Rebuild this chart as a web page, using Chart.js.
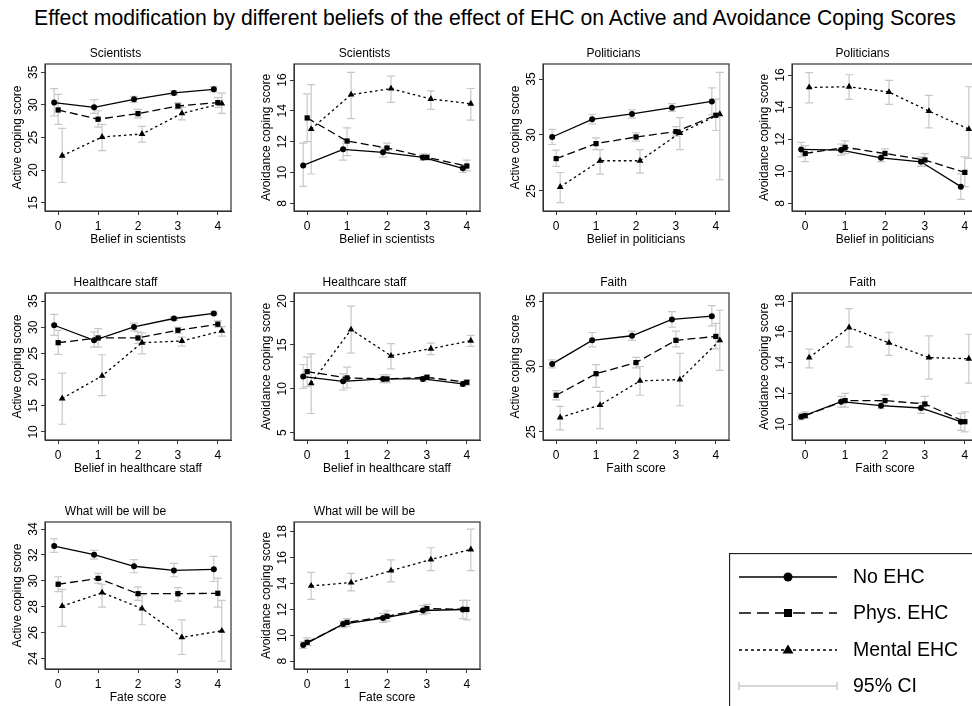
<!DOCTYPE html>
<html>
<head>
<meta charset="utf-8">
<script src="https://cdn.jsdelivr.net/npm/chart.js@4.4.1/dist/chart.umd.min.js"></script>
<style>
html, body { margin: 0; padding: 0; background: #fff; width: 972px; height: 706px; overflow: hidden; }
#title { position: absolute; left: 9px; top: 6px; width: 972px; text-align: center; font: 21.2px "Liberation Sans", Arial, sans-serif; line-height: 24px; color: #000; white-space: nowrap; }
canvas { position: absolute; }
</style>
</head>
<body>
<div id="title">Effect modification by different beliefs of the effect of EHC on Active and Avoidance Coping Scores</div>
<canvas id="p1" width="236" height="204"></canvas>
<canvas id="p2" width="236" height="204"></canvas>
<canvas id="p3" width="236" height="204"></canvas>
<canvas id="p4" width="236" height="204"></canvas>
<canvas id="p5" width="236" height="204"></canvas>
<canvas id="p6" width="236" height="204"></canvas>
<canvas id="p7" width="236" height="204"></canvas>
<canvas id="p8" width="236" height="204"></canvas>
<canvas id="p9" width="236" height="204"></canvas>
<canvas id="p10" width="236" height="204"></canvas>
<canvas id="legend" width="243" height="153"></canvas>
<script>
const FONT = '"Liberation Sans", Arial, sans-serif'

const xTicks = [0, 1, 2, 3, 4]
const seriesNames = ['No EHC', 'Phys. EHC', 'Mental EHC']
const seriesShift = [-0.1, 0, 0.1]

// Scientists - active
const sciActNo = [30.35, 29.63, 30.86, 31.83, 32.39]
const sciActPhys = [29.22, 27.8, 28.66, 29.83, 30.35]
const sciActMent = [22.2, 25.08, 25.54, 28.7, 30.2]
const sciActNoCI = [[28.3, 32.5], [28.7, 30.8], [30.4, 31.3], [31.5, 32.2], [32.0, 32.8]]
const sciActPhysCI = [[27.0, 31.6], [26.6, 29.1], [28.0, 29.3], [29.4, 30.3], [29.6, 31.1]]
const sciActMentCI = [[18.1, 26.4], [23.0, 27.0], [24.3, 26.7], [27.7, 29.6], [28.7, 31.8]]

// Scientists - avoidance
const sciAvoNo = [10.46, 11.5, 11.31, 10.98, 10.27]
const sciAvoPhys = [13.54, 12.04, 11.59, 10.98, 10.42]
const sciAvoMent = [12.82, 15.05, 15.44, 14.77, 14.46]
const sciAvoNoCI = [[9.1, 11.9], [10.8, 12.2], [11.0, 11.6], [10.8, 11.2], [10.0, 10.5]]
const sciAvoPhysCI = [[12.0, 15.1], [11.1, 12.9], [11.3, 11.9], [10.8, 11.2], [10.1, 10.8]]
const sciAvoMentCI = [[9.9, 15.7], [13.5, 16.5], [14.55, 16.25], [14.1, 15.3], [13.4, 15.45]]

// Politicians - active
const polActNo = [29.82, 31.4, 31.88, 32.44, 33.0]
const polActPhys = [27.89, 29.23, 29.82, 30.3, 31.76]
const polActMent = [25.36, 27.7, 27.7, 30.18, 31.85]
const polActNoCI = [[29.15, 30.5], [31.0, 31.85], [31.5, 32.25], [32.1, 32.8], [31.8, 34.2]]
const polActPhysCI = [[27.2, 28.65], [28.7, 29.75], [29.45, 30.2], [29.9, 30.75], [30.4, 33.2]]
const polActMentCI = [[23.95, 26.65], [26.5, 28.7], [26.6, 28.7], [28.7, 31.55], [26.0, 35.6]]

// Politicians - avoidance
const polAvoNo = [11.36, 11.32, 10.84, 10.59, 9.04]
const polAvoPhys = [11.11, 11.49, 11.11, 10.7, 9.93]
const polAvoMent = [15.23, 15.27, 14.94, 13.75, 12.63]
const polAvoNoCI = [[10.9, 11.8], [11.0, 11.7], [10.6, 11.1], [10.3, 10.9], [8.25, 9.83]]
const polAvoPhysCI = [[10.6, 11.6], [11.1, 11.9], [10.8, 11.4], [10.3, 11.1], [9.04, 10.9]]
const polAvoMentCI = [[14.27, 16.15], [14.48, 16.02], [14.17, 15.67], [12.7, 14.73], [10.8, 15.27]]

// Healthcare staff - active
const hcActNo = [30.38, 27.5, 30.06, 31.67, 32.63]
const hcActPhys = [27.05, 27.95, 27.95, 29.42, 30.58]
const hcActMent = [16.4, 20.7, 27.05, 27.37, 29.3]
const hcActNoCI = [[28.46, 32.44], [26.2, 29.1], [29.3, 30.8], [31.3, 32.0], [32.3, 32.9]]
const hcActPhysCI = [[24.8, 29.4], [26.2, 29.74], [26.9, 29.1], [28.8, 30.0], [30.0, 31.2]]
const hcActMentCI = [[11.47, 21.22], [16.92, 24.74], [24.9, 28.9], [26.4, 28.1], [28.3, 30.1]]

// Healthcare staff - avoidance
const hcAvoNo = [11.39, 10.85, 11.12, 11.12, 10.55]
const hcAvoPhys = [11.96, 11.24, 11.12, 11.31, 10.74]
const hcAvoMent = [10.62, 16.75, 13.76, 14.57, 15.48]
const hcAvoNoCI = [[10.05, 12.77], [9.86, 11.7], [10.7, 11.6], [10.8, 11.4], [10.3, 10.8]]
const hcAvoPhysCI = [[10.24, 13.6], [10.09, 12.46], [10.7, 11.6], [11.0, 11.6], [10.4, 11.0]]
const hcAvoMentCI = [[7.18, 13.99], [14.07, 19.43], [12.27, 15.14], [13.9, 15.2], [14.83, 16.1]]

// Faith - active
const faiActNo = [30.2, 32.0, 32.35, 33.6, 33.85]
const faiActPhys = [27.8, 29.45, 30.3, 32.0, 32.3]
const faiActMent = [26.1, 27.05, 28.9, 29.0, 32.0]
const faiActNoCI = [[29.9, 30.5], [31.5, 32.6], [32.0, 32.7], [33.0, 34.2], [33.1, 34.65]]
const faiActPhysCI = [[27.45, 28.15], [28.4, 30.15], [29.9, 30.7], [31.5, 32.7], [31.35, 33.3]]
const faiActMentCI = [[25.15, 26.95], [25.25, 28.1], [27.8, 30.0], [27.0, 31.0], [29.7, 34.3]]

// Faith - avoidance
const faiAvoNo = [10.48, 11.46, 11.2, 11.05, 10.16]
const faiAvoPhys = [10.55, 11.53, 11.53, 11.31, 10.16]
const faiAvoMent = [14.32, 16.28, 15.28, 14.32, 14.25]
const faiAvoNoCI = [[10.3, 10.7], [11.1, 11.8], [11.0, 11.5], [10.7, 11.4], [9.6, 10.7]]
const faiAvoPhysCI = [[10.4, 10.8], [11.1, 12.0], [11.2, 11.9], [10.9, 11.8], [9.5, 10.8]]
const faiAvoMentCI = [[13.66, 14.88], [15.02, 17.5], [14.47, 15.97], [12.92, 15.73], [12.66, 15.84]]

// Fate - active
const fatActNo = [32.69, 32.02, 31.13, 30.81, 30.89]
const fatActPhys = [29.74, 30.19, 29.01, 29.01, 29.04]
const fatActMent = [28.05, 29.09, 27.86, 25.64, 26.14]
const fatActNoCI = [[32.2, 33.24], [31.68, 32.36], [30.63, 31.65], [30.32, 31.36], [29.95, 31.89]]
const fatActPhysCI = [[29.17, 30.32], [29.8, 30.58], [28.49, 29.54], [28.44, 29.48], [27.97, 30.21]]
const fatActMentCI = [[26.48, 29.35], [27.97, 29.74], [26.61, 28.91], [24.31, 26.98], [23.79, 28.49]]

// Fate - avoidance
const fatAvoNo = [9.25, 10.87, 11.34, 11.92, 12.0]
const fatAvoPhys = [9.46, 11.0, 11.47, 12.07, 12.0]
const fatAvoMent = [13.82, 14.08, 15.0, 15.86, 16.64]
const fatAvoNoCI = [[9.0, 9.5], [10.6, 11.1], [11.0, 11.7], [11.6, 12.3], [11.3, 12.7]]
const fatAvoPhysCI = [[9.2, 9.8], [10.7, 11.3], [11.1, 11.9], [11.7, 12.4], [11.2, 12.7]]
const fatAvoMentCI = [[12.78, 14.87], [13.43, 14.79], [14.14, 15.83], [15.0, 16.77], [15.0, 18.21]]

const ACT = 'Active coping score'
const AVO = 'Avoidance coping score'

const panels = [
    { id: 'p1', col: 0, row: 0, title: 'Scientists', xTitle: 'Belief in scientists', yTitle: ACT, yMin: 13.73, yMax: 36.27, yTicks: [15, 20, 25, 30, 35],
      means: [sciActNo, sciActPhys, sciActMent], ci: [sciActNoCI, sciActPhysCI, sciActMentCI] },
    { id: 'p2', col: 1, row: 0, title: 'Scientists', xTitle: 'Belief in scientists', yTitle: AVO, yMin: 7.5, yMax: 17.04, yTicks: [8, 10, 12, 14, 16],
      means: [sciAvoNo, sciAvoPhys, sciAvoMent], ci: [sciAvoNoCI, sciAvoPhysCI, sciAvoMentCI] },
    { id: 'p3', col: 2, row: 0, title: 'Politicians', xTitle: 'Belief in politicians', yTitle: ACT, yMin: 23.21, yMax: 36.34, yTicks: [25, 30, 35],
      means: [polActNo, polActPhys, polActMent], ci: [polActNoCI, polActPhysCI, polActMentCI] },
    { id: 'p4', col: 3, row: 0, title: 'Politicians', xTitle: 'Belief in politicians', yTitle: AVO, yMin: 7.52, yMax: 16.69, yTicks: [8, 10, 12, 14, 16],
      means: [polAvoNo, polAvoPhys, polAvoMent], ci: [polAvoNoCI, polAvoPhysCI, polAvoMentCI] },
    { id: 'p5', col: 0, row: 1, title: 'Healthcare staff', xTitle: 'Belief in healthcare staff', yTitle: ACT, yMin: 8.46, yMax: 36.54, yTicks: [10, 15, 20, 25, 30, 35],
      means: [hcActNo, hcActPhys, hcActMent], ci: [hcActNoCI, hcActPhysCI, hcActMentCI] },
    { id: 'p6', col: 1, row: 1, title: 'Healthcare staff', xTitle: 'Belief in healthcare staff', yTitle: AVO, yMin: 4.16, yMax: 20.92, yTicks: [5, 10, 15, 20],
      means: [hcAvoNo, hcAvoPhys, hcAvoMent], ci: [hcAvoNoCI, hcAvoPhysCI, hcAvoMentCI] },
    { id: 'p7', col: 2, row: 1, title: 'Faith', xTitle: 'Faith score', yTitle: ACT, yMin: 24.38, yMax: 35.62, yTicks: [25, 30, 35],
      means: [faiActNo, faiActPhys, faiActMent], ci: [faiActNoCI, faiActPhysCI, faiActMentCI] },
    { id: 'p8', col: 3, row: 1, title: 'Faith', xTitle: 'Faith score', yTitle: AVO, yMin: 8.97, yMax: 18.52, yTicks: [10, 12, 14, 16, 18],
      means: [faiAvoNo, faiAvoPhys, faiAvoMent], ci: [faiAvoNoCI, faiAvoPhysCI, faiAvoMentCI] },
    { id: 'p9', col: 0, row: 2, title: 'What will be will be', xTitle: 'Fate score', yTitle: ACT, yMin: 23.19, yMax: 34.55, yTicks: [24, 26, 28, 30, 32, 34],
      means: [fatActNo, fatActPhys, fatActMent], ci: [fatActNoCI, fatActPhysCI, fatActMentCI] },
    { id: 'p10', col: 1, row: 2, title: 'What will be will be', xTitle: 'Fate score', yTitle: AVO, yMin: 7.4, yMax: 18.76, yTicks: [8, 10, 12, 14, 16, 18],
      means: [fatAvoNo, fatAvoPhys, fatAvoMent], ci: [fatAvoNoCI, fatAvoPhysCI, fatAvoMentCI] },
]

// plot box positions on the page
const boxLeft = [45, 294, 543, 792]
const boxTop = [64, 293, 522]
const Y_AXIS_W = 45
const TITLE_H = 20

const lineDash = [[], [8, 4], [2.5, 3]]
const pointStyle = ['circle', 'rect', 'triangle']
const pointSize = [3, 3.7, 3.9]

// grey 95% CI whiskers, drawn under the lines
const ciBars = {
    id: 'ciBars',
    beforeDatasetsDraw(chart) {
        const { ctx, scales: { x, y } } = chart
        ctx.save()
        ctx.strokeStyle = '#c8c8c8'
        ctx.lineWidth = 1.2
        chart.data.datasets.forEach(ds => {
            ds.data.forEach(p => {
                const px = x.getPixelForValue(p.x)
                const lo = y.getPixelForValue(p.lo)
                const hi = y.getPixelForValue(p.hi)
                ctx.beginPath()
                ctx.moveTo(px, lo); ctx.lineTo(px, hi)
                ctx.moveTo(px - 4, lo); ctx.lineTo(px + 4, lo)
                ctx.moveTo(px - 4, hi); ctx.lineTo(px + 4, hi)
                ctx.stroke()
            })
        })
        ctx.restore()
    }
}

// box around plot + rotated y tick labels (R style)
const frame = {
    id: 'frame',
    afterDraw(chart) {
        const { ctx, chartArea: a, scales: { y } } = chart
        ctx.save()
        ctx.strokeStyle = '#333'
        ctx.lineWidth = 1.2
        ctx.strokeRect(a.left, a.top, a.right - a.left, a.bottom - a.top)
        ctx.fillStyle = '#000'
        ctx.font = '12px ' + FONT
        ctx.textAlign = 'center'
        ctx.textBaseline = 'middle'
        y.ticks.forEach(t => {
            ctx.save()
            ctx.translate(a.left - 11, y.getPixelForValue(t.value))
            ctx.rotate(-Math.PI / 2)
            ctx.fillText(String(t.value), 0, 0)
            ctx.restore()
        })
        ctx.restore()
    }
}

const getElementById = (id) => document.getElementById(id)

const makePanel = (p) => {
    const el = getElementById(p.id)
    el.style.left = (boxLeft[p.col] - Y_AXIS_W) + 'px'
    el.style.top = (boxTop[p.row] - TITLE_H) + 'px'

    const datasets = p.means.map((vals, s) => ({
        label: seriesNames[s],
        data: vals.map((v, i) => ({ x: xTicks[i] + seriesShift[s], y: v, lo: p.ci[s][i][0], hi: p.ci[s][i][1] })),
        borderColor: '#000',
        backgroundColor: '#000',
        borderWidth: 1.3,
        borderDash: lineDash[s],
        pointStyle: pointStyle[s],
        pointRadius: pointSize[s],
        pointBorderWidth: 0,
        tension: 0,
        clip: false,
    }))

    new Chart(el, {
        type: 'line',
        data: { datasets },
        options: {
            responsive: false,
            animation: false,
            events: [],
            layout: { padding: { left: 0, right: 5, top: 0, bottom: 0 } },
            plugins: {
                legend: { display: false },
                tooltip: { enabled: false },
                title: {
                    display: true,
                    text: p.title,
                    color: '#000',
                    font: { family: FONT, size: 12, weight: 'normal', lineHeight: '14px' },
                    padding: { top: 3, bottom: 3 }
                }
            },
            scales: {
                x: {
                    type: 'linear',
                    min: -0.33,
                    max: 4.33,
                    afterBuildTicks: s => { s.ticks = xTicks.map(v => ({ value: v })) },
                    afterFit: s => { s.height = 37 },
                    grid: { drawOnChartArea: false, drawTicks: true, tickLength: 4, color: '#333' },
                    border: { display: true, color: '#333' },
                    ticks: { color: '#000', padding: 4, maxRotation: 0, autoSkip: false, font: { family: FONT, size: 12 } },
                    title: { display: true, text: p.xTitle, color: '#000', font: { family: FONT, size: 12, lineHeight: '14px' }, padding: { top: 0, bottom: 1 } }
                },
                y: {
                    type: 'linear',
                    min: p.yMin,
                    max: p.yMax,
                    afterBuildTicks: s => { s.ticks = p.yTicks.map(v => ({ value: v })) },
                    afterFit: s => { s.width = Y_AXIS_W },
                    grid: { drawOnChartArea: false, drawTicks: true, tickLength: 4, color: '#333' },
                    border: { display: true, color: '#333' },
                    ticks: { display: false },
                    title: { display: true, text: p.yTitle, color: '#000', font: { family: FONT, size: 12, lineHeight: '14px' }, padding: { top: 11, bottom: 0 } }
                }
            }
        },
        plugins: [ciBars, frame]
    })
}

panels.forEach(makePanel)

// legend box (bottom right)
const drawLegend = () => {
    const el = getElementById('legend')
    el.style.left = '729px'
    el.style.top = '553px'
    const ctx = el.getContext('2d')
    ctx.strokeStyle = '#222'
    ctx.lineWidth = 1.3
    ctx.strokeRect(0.5, 0.5, 300, 200)

    const rowsY = [24, 60, 97, 133]
    const x0 = 10, x1 = 108, xm = 59
    ctx.font = '19.5px ' + FONT
    ctx.textBaseline = 'middle'
    ctx.fillStyle = '#000'

    seriesNames.forEach((name, s) => {
        const yy = rowsY[s]
        ctx.save()
        ctx.strokeStyle = '#000'
        ctx.lineWidth = 1.5
        ctx.setLineDash(lineDash[s].length ? (s === 1 ? [12, 6] : [3, 3]) : [])
        ctx.beginPath(); ctx.moveTo(x0, yy); ctx.lineTo(x1, yy); ctx.stroke()
        ctx.restore()
        ctx.beginPath()
        if (s === 0) ctx.arc(xm, yy, 4.5, 0, Math.PI * 2)
        if (s === 1) ctx.rect(xm - 4, yy - 4, 8, 8)
        if (s === 2) { ctx.moveTo(xm, yy - 5.5); ctx.lineTo(xm + 5.5, yy + 3.5); ctx.lineTo(xm - 5.5, yy + 3.5); ctx.closePath() }
        ctx.fill()
        ctx.fillText(name, 124, yy + 1)
    })

    // CI entry
    const yy = rowsY[3]
    ctx.strokeStyle = '#c8c8c8'
    ctx.lineWidth = 1.4
    ctx.beginPath()
    ctx.moveTo(x0, yy); ctx.lineTo(x1, yy)
    ctx.moveTo(x0, yy - 4); ctx.lineTo(x0, yy + 4)
    ctx.moveTo(x1, yy - 4); ctx.lineTo(x1, yy + 4)
    ctx.stroke()
    ctx.fillText('95% CI', 124, yy + 1)
}

drawLegend()
</script>
</body>
</html>
